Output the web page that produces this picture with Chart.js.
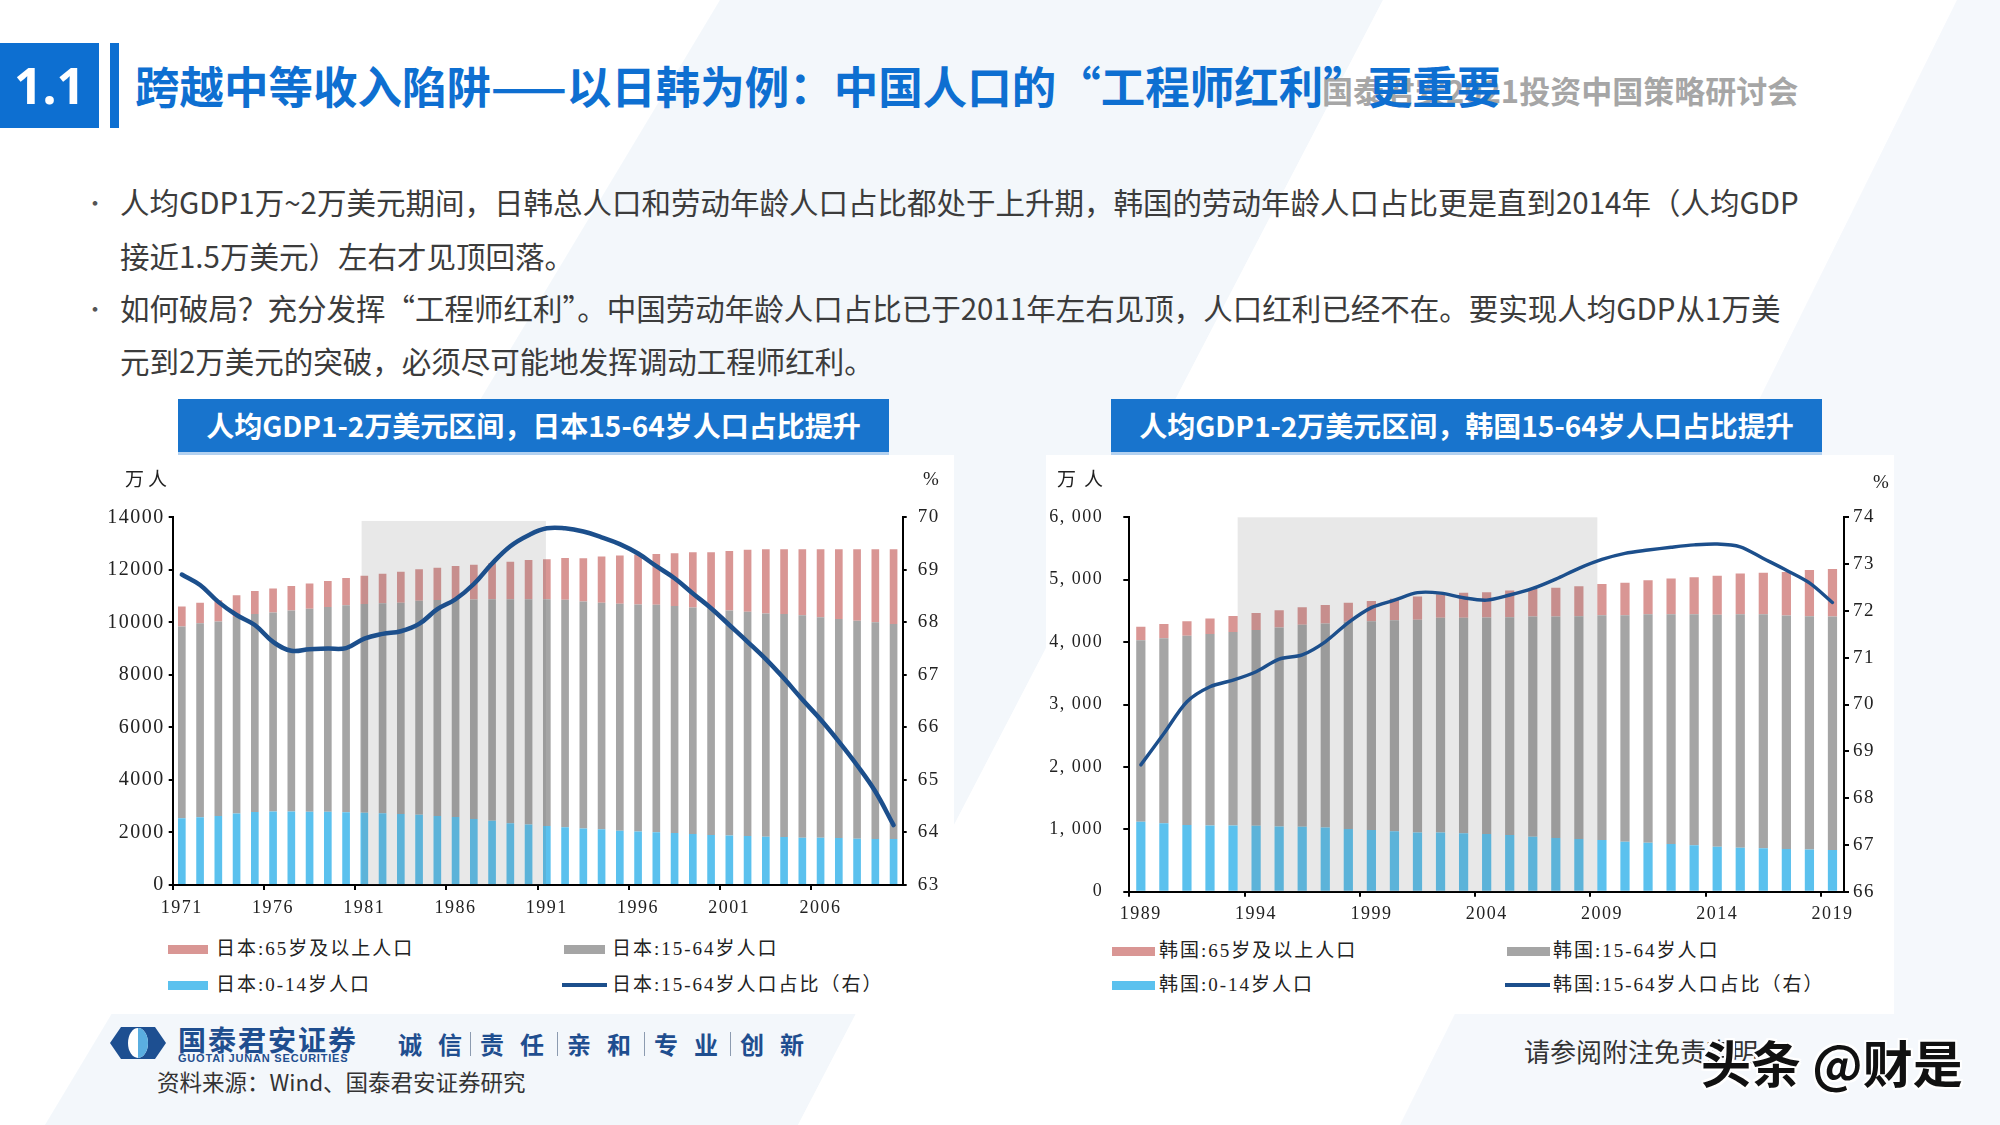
<!DOCTYPE html>
<html><head><meta charset="utf-8">
<script src="https://cdn.jsdelivr.net/npm/chart.js@4.4.1/dist/chart.umd.min.js"></script>
<style>
html,body{margin:0;padding:0;}
body{width:2000px;height:1125px;overflow:hidden;background:#fff;font-family:"Noto Sans CJK SC","Noto Sans",sans-serif;}
#page{position:relative;width:2000px;height:1125px;overflow:hidden;background:#fbfcfe;}
.abs{position:absolute;white-space:nowrap;}
.bul{font-size:29.5px;color:#3c3c3c;line-height:40px;}
.ctitle{background:#1874cd;color:#fff;font-weight:bold;font-size:28px;text-align:center;line-height:53px;height:53px;box-shadow:0 3px 0 #b3d1f0;}
.panel{background:#fff;}
.lg{font-family:"Liberation Serif","Noto Sans CJK SC",serif;font-size:19px;letter-spacing:2px;color:#222;line-height:24px;}
.sw{position:absolute;height:9px;}
.unit{font-family:"Liberation Serif","Noto Sans CJK SC",serif;font-size:19px;color:#222;letter-spacing:4px;line-height:24px;}
.slogan{font-size:24px;font-weight:bold;color:#1f4e8f;letter-spacing:16px;line-height:30px;}
.sep{position:absolute;width:1px;height:24px;background:#8c9bb0;}
</style></head><body>
<div id="page">
<svg class="abs" style="left:0;top:0" width="2000" height="1125">
  <polygon points="0,0 720,0 45,1125 0,1125" fill="#ffffff"/>
  <polygon points="720,0 1383,0 798,1125 45,1125" fill="#f3f7fb"/>
  <polygon points="1383,0 1957,0 1400,1125 798,1125" fill="#ffffff"/>
  <polygon points="1957,0 2000,0 2000,1125 1400,1125" fill="#f5f8fc"/>
</svg>

<!-- header -->
<div class="abs" style="left:0;top:43px;width:99px;height:85px;background:#0d6fd1;color:#fff;font-family:'Noto Sans',sans-serif;font-weight:bold;font-size:50px;line-height:85px;text-align:center;">1.1</div>
<div class="abs" style="left:110px;top:43px;width:9px;height:85px;background:#0d6fd1;"></div>
<div class="abs" style="left:1322px;top:70px;font-size:31px;font-weight:bold;color:#a6a6a6;line-height:40px;">国泰君安2021投资中国策略研讨会</div>
<div class="abs" style="left:135px;top:55px;font-size:44.5px;font-weight:bold;color:#0e6fd1;line-height:60px;">跨越中等收入陷阱——以日韩为例：中国人口的“工程师红利”更重要</div>

<!-- bullets -->
<div class="abs bul" style="left:84px;top:181px;font-size:22px;color:#555;">•</div>
<div class="abs bul" style="left:120px;top:181px;">人均GDP1万~2万美元期间，日韩总人口和劳动年龄人口占比都处于上升期，韩国的劳动年龄人口占比更是直到2014年（人均GDP</div>
<div class="abs bul" style="left:120px;top:235px;">接近1.5万美元）左右才见顶回落。</div>
<div class="abs bul" style="left:84px;top:287px;font-size:22px;color:#555;">•</div>
<div class="abs bul" style="left:120px;top:287px;">如何破局？充分发挥“工程师红利”。中国劳动年龄人口占比已于2011年左右见顶，人口红利已经不在。要实现人均GDP从1万美</div>
<div class="abs bul" style="left:120px;top:340px;">元到2万美元的突破，必须尽可能地发挥调动工程师红利。</div>

<!-- panels -->
<div class="abs panel" style="left:99px;top:455px;width:855px;height:559px;"></div>
<div class="abs panel" style="left:1046px;top:455px;width:848px;height:559px;"></div>
<div class="abs ctitle" style="left:178px;top:399px;width:711px;">人均GDP1-2万美元区间，日本15-64岁人口占比提升</div>
<div class="abs ctitle" style="left:1111px;top:399px;width:711px;">人均GDP1-2万美元区间，韩国15-64岁人口占比提升</div>

<canvas id="jp" class="abs" style="left:99px;top:455px;" width="856" height="480"></canvas>
<canvas id="kr" class="abs" style="left:1046px;top:455px;" width="848" height="480"></canvas>

<div class="abs unit" style="left:125px;top:468px;">万人</div>
<div class="abs unit" style="left:923px;top:467px;">%</div>
<div class="abs unit" style="left:1057px;top:468px;letter-spacing:8px;">万人</div>
<div class="abs unit" style="left:1873px;top:470px;">%</div>

<!-- legends -->
<div class="sw" style="left:168px;top:945px;width:40px;background:#d99694;"></div>
<div class="abs lg" style="left:216px;top:937px;">日本:65岁及以上人口</div>
<div class="sw" style="left:564px;top:945px;width:41px;background:#a5a5a5;"></div>
<div class="abs lg" style="left:612px;top:937px;">日本:15-64岁人口</div>
<div class="sw" style="left:168px;top:981px;width:40px;background:#5bc1ee;"></div>
<div class="abs lg" style="left:216px;top:973px;">日本:0-14岁人口</div>
<div class="sw" style="left:562px;top:983px;width:45px;height:4px;background:#1c4f8c;"></div>
<div class="abs lg" style="left:612px;top:973px;">日本:15-64岁人口占比（右）</div>

<div class="sw" style="left:1112px;top:947px;width:43px;background:#d99694;"></div>
<div class="abs lg" style="left:1159px;top:939px;">韩国:65岁及以上人口</div>
<div class="sw" style="left:1507px;top:947px;width:43px;background:#a5a5a5;"></div>
<div class="abs lg" style="left:1553px;top:939px;">韩国:15-64岁人口</div>
<div class="sw" style="left:1112px;top:981px;width:43px;background:#5bc1ee;"></div>
<div class="abs lg" style="left:1159px;top:973px;">韩国:0-14岁人口</div>
<div class="sw" style="left:1505px;top:983px;width:45px;height:4px;background:#1c4f8c;"></div>
<div class="abs lg" style="left:1553px;top:973px;">韩国:15-64岁人口占比（右）</div>

<!-- footer -->
<svg class="abs" style="left:108px;top:1025px" width="60" height="36" viewBox="0 0 60 36">
  <path d="M13 2 H47 L58 18 L47 34 H13 L2 18 Z" fill="#1d4f91"/>
  <ellipse cx="30" cy="18" rx="10" ry="15" fill="#fff"/>
  <path d="M30 3 A10 15 0 0 1 30 33 Z" fill="#5aaee0"/>
</svg>
<div class="abs" style="left:178px;top:1024px;font-size:28px;font-weight:bold;color:#1f4e8f;letter-spacing:2px;line-height:30px;">国泰君安证券</div>
<div class="abs" style="left:178px;top:1053px;font-family:'Liberation Sans',sans-serif;font-size:11px;font-weight:bold;color:#1f4e8f;letter-spacing:0.8px;line-height:11px;">GUOTAI JUNAN SECURITIES</div>
<div class="abs slogan" style="left:398px;top:1029px;">诚信</div>
<div class="sep" style="left:470px;top:1032px;"></div>
<div class="abs slogan" style="left:480px;top:1029px;">责任</div>
<div class="sep" style="left:557px;top:1032px;"></div>
<div class="abs slogan" style="left:567px;top:1029px;">亲和</div>
<div class="sep" style="left:644px;top:1032px;"></div>
<div class="abs slogan" style="left:654px;top:1029px;">专业</div>
<div class="sep" style="left:730px;top:1032px;"></div>
<div class="abs slogan" style="left:740px;top:1029px;">创新</div>
<div class="abs" style="left:157px;top:1066px;font-size:22.5px;color:#333;line-height:30px;">资料来源：Wind、国泰君安证券研究</div>
<div class="abs" style="left:1524px;top:1034px;font-size:26px;color:#333;line-height:34px;">请参阅附注免责声明</div>
<div class="abs" style="left:1701px;top:1028px;font-size:50px;font-weight:bold;color:#111;line-height:66px;text-shadow:2px 0 #fff,-2px 0 #fff,0 2px #fff,0 -2px #fff,2px 2px #fff,-2px -2px #fff,2px -2px #fff,-2px 2px #fff;">头条 @财是</div>
</div>

<script>
// ---------------- DATA ----------------
const jpYears = ['1971','1972','1973','1974','1975','1976','1977','1978','1979','1980',
  '1981','1982','1983','1984','1985','1986','1987','1988','1989','1990',
  '1991','1992','1993','1994','1995','1996','1997','1998','1999','2000',
  '2001','2002','2003','2004','2005','2006','2007','2008','2009','2010'];
const jpAge0to14 = [2540,2580,2630,2720,2780,2800,2800,2790,2790,2770,
  2750,2730,2700,2670,2630,2590,2510,2450,2350,2300,
  2250,2200,2150,2120,2070,2040,2010,1980,1940,1900,
  1880,1870,1840,1830,1800,1800,1790,1760,1750,1750];
const jpAge15to64 = [7300,7390,7400,7480,7540,7580,7650,7730,7790,7880,
  7950,8000,8050,8150,8220,8260,8360,8430,8530,8580,
  8630,8660,8640,8630,8640,8640,8660,8640,8630,8620,
  8570,8530,8500,8490,8470,8390,8340,8300,8250,8190];
const jpAge65plus = [760,780,810,830,870,910,930,960,990,1040,
  1070,1120,1180,1200,1230,1300,1320,1370,1430,1490,
  1520,1590,1650,1760,1840,1900,1930,2010,2100,2150,
  2270,2360,2440,2460,2510,2590,2650,2720,2780,2840];
const jpShare15to64 = [68.91,68.71,68.39,68.14,67.95,67.63,67.46,67.49,67.50,67.51,
  67.69,67.78,67.83,67.97,68.25,68.44,68.73,69.12,69.45,69.66,
  69.79,69.79,69.73,69.62,69.49,69.31,69.07,68.84,68.55,68.27,
  67.95,67.63,67.30,66.93,66.53,66.15,65.73,65.28,64.78,64.14];

const krYears = ['1989','1990','1991','1992','1993','1994','1995','1996','1997','1998',
  '1999','2000','2001','2002','2003','2004','2005','2006','2007','2008',
  '2009','2010','2011','2012','2013','2014','2015','2016','2017','2018','2019'];
const krAge0to14 = [1120,1095,1070,1060,1060,1055,1045,1040,1030,1005,
  990,970,950,950,935,925,910,880,860,845,
  830,800,785,765,745,720,705,695,685,675,670];
const krAge15to64 = [2910,2965,3030,3070,3100,3140,3190,3240,3270,3320,
  3345,3380,3410,3440,3455,3470,3490,3530,3550,3570,
  3600,3630,3660,3680,3700,3720,3740,3750,3740,3740,3740];
const krAge65plus = [215,230,235,250,260,270,275,280,295,305,
  325,345,370,375,400,405,425,440,460,480,
  500,520,545,575,595,625,655,665,700,740,760];
const krShare15to64 = [68.71,69.38,70.06,70.38,70.52,70.70,70.97,71.06,71.34,71.75,
  72.07,72.23,72.39,72.38,72.28,72.23,72.34,72.48,72.68,72.91,
  73.10,73.23,73.30,73.36,73.41,73.43,73.37,73.12,72.87,72.60,72.18];

const jpLeftTicks = [0, 14000, 2000];   // min, max, step
const jpRightTicks = [63, 70, 1];
const krLeftTicks = [0, 6000, 1000];
const krRightTicks = [66, 74, 1];
const jpHighlight = ['1981', '1991'];   // 人均GDP 1-2万美元区间
const krHighlight = ['1993', '2009'];

// ---------------- STYLE ----------------
const BLUE = '#5bc1ee', GRAY = '#a5a5a5', PINK = '#d99694', NAVY = '#1c4f8c';
const TICKCOL = '#222';

const spacing = {
  id: 'spacing',
  beforeUpdate(c) { c.ctx.letterSpacing = '1.5px'; },
  beforeDraw(c) { c.ctx.letterSpacing = '1.5px'; }
};
const shade = {
  id: 'shade',
  beforeDatasetDraw(chart, args, o) {
    if (chart.data.datasets[args.index].type !== 'line') return;
    const {ctx, chartArea, scales} = chart;
    const lab = chart.data.labels;
    const x0 = scales.x.getPixelForValue(lab.indexOf(o.range[0]) + o.off[0]);
    const x1 = scales.x.getPixelForValue(lab.indexOf(o.range[1]) + o.off[1]);
    const yt = scales.y.getPixelForValue(o.top);
    ctx.save();
    ctx.fillStyle = o.color;
    ctx.fillRect(x0, yt, x1 - x0, chartArea.bottom - yt);
    ctx.restore();
  }
};

function build(id, o) {
  const bar = (data, color) => ({data, backgroundColor: color, borderWidth: 0, stack: 'p', order: 1,
    yAxisID: 'y', barPercentage: o.bp, categoryPercentage: 1});
  return new Chart(document.getElementById(id), {
    type: 'bar',
    data: {
      labels: o.years,
      datasets: [
        Object.assign(bar(o.kids, BLUE), {label: o.names[0]}),
        Object.assign(bar(o.work, GRAY), {label: o.names[1]}),
        Object.assign(bar(o.old, PINK), {label: o.names[2]}),
        {type: 'line', label: o.names[3], data: o.share, yAxisID: 'y2', order: 0,
         borderColor: NAVY, borderWidth: o.lineW, pointRadius: 0, tension: o.tension, fill: false,
         borderCapStyle: 'round', borderJoinStyle: 'round'}
      ]
    },
    options: {
      responsive: false, animation: false, devicePixelRatio: 1,
      layout: {padding: {top: o.padTop, left: 0, right: 0, bottom: 0}},
      plugins: {legend: {display: false}, tooltip: {enabled: false},
        shade: {range: o.hl, off: o.hlOff, top: o.hlTop, color: 'rgba(100,100,100,0.15)'}},
      scales: {
        x: {
          stacked: true, offset: true,
          grid: {offset: true, drawOnChartArea: false, drawTicks: true, tickLength: 5, lineWidth: 2,
            color: c => (c.index !== undefined && c.index % 5 === 0) ? '#000' : 'rgba(0,0,0,0)'},
          border: {display: true, color: '#000', width: 2},
          ticks: {autoSkip: false, maxRotation: 0, minRotation: 0, padding: 7, color: TICKCOL,
            font: {family: 'Liberation Serif', size: 18},
            callback(v, i) { return i % 5 === 0 ? this.getLabelForValue(v) : ''; }},
          afterFit(s) { s.height = o.xH; }
        },
        y: {
          stacked: true, min: o.lt[0], max: o.lt[1], position: 'left',
          grid: {drawOnChartArea: false, tickLength: o.ltl, color: '#000', lineWidth: 2},
          border: {display: true, color: '#000', width: 2},
          ticks: {stepSize: o.lt[2], padding: o.lpad, color: TICKCOL,
            font: {family: 'Liberation Serif', size: o.lfs}, callback: o.lfmt},
          afterFit(s) { s.width = o.lW; }
        },
        y2: {
          min: o.rt[0], max: o.rt[1], position: 'right',
          grid: {drawOnChartArea: false, tickLength: o.rtl, color: '#000', lineWidth: 2},
          border: {display: true, color: '#000', width: 2},
          ticks: {stepSize: o.rt[2], padding: o.rpad, color: TICKCOL,
            font: {family: 'Liberation Serif', size: 19}, callback: v => String(v)},
          afterFit(s) { s.width = o.rW; }
        }
      }
    },
    plugins: [spacing, shade]
  });
}

build('jp', {
  years: jpYears, kids: jpAge0to14, work: jpAge15to64, old: jpAge65plus, share: jpShare15to64,
  names: ['日本:0-14岁人口', '日本:15-64岁人口', '日本:65岁及以上人口', '日本:15-64岁人口占比（右）'],
  bp: 0.42, lineW: 4.5, tension: 0.4, padTop: 62.3, xH: 50,
  lt: jpLeftTicks, rt: jpRightTicks, ltl: 4, lpad: 4, rtl: 4, rpad: 11, lfs: 20,
  lW: 73.7, rW: 52.3, lfmt: v => String(v),
  hl: jpHighlight, hlOff: [-0.15, -0.05], hlTop: 13860
});
build('kr', {
  years: krYears, kids: krAge0to14, work: krAge15to64, old: krAge65plus, share: krShare15to64,
  names: ['韩国:0-14岁人口', '韩国:15-64岁人口', '韩国:65岁及以上人口', '韩国:15-64岁人口占比（右）'],
  bp: 0.40, lineW: 3.4, tension: 0.3, padTop: 62.3, xH: 43.3,
  lt: krLeftTicks, rt: krRightTicks, ltl: 6, lpad: 20, rtl: 5, rpad: 4, lfs: 18,
  lW: 83.3, rW: 50, lfmt: v => v === 0 ? '0' : v.toLocaleString('en-US').replace(',', ', '),
  hl: krHighlight, hlOff: [0.2, -0.2], hlTop: 6000
});
</script>
</body></html>
